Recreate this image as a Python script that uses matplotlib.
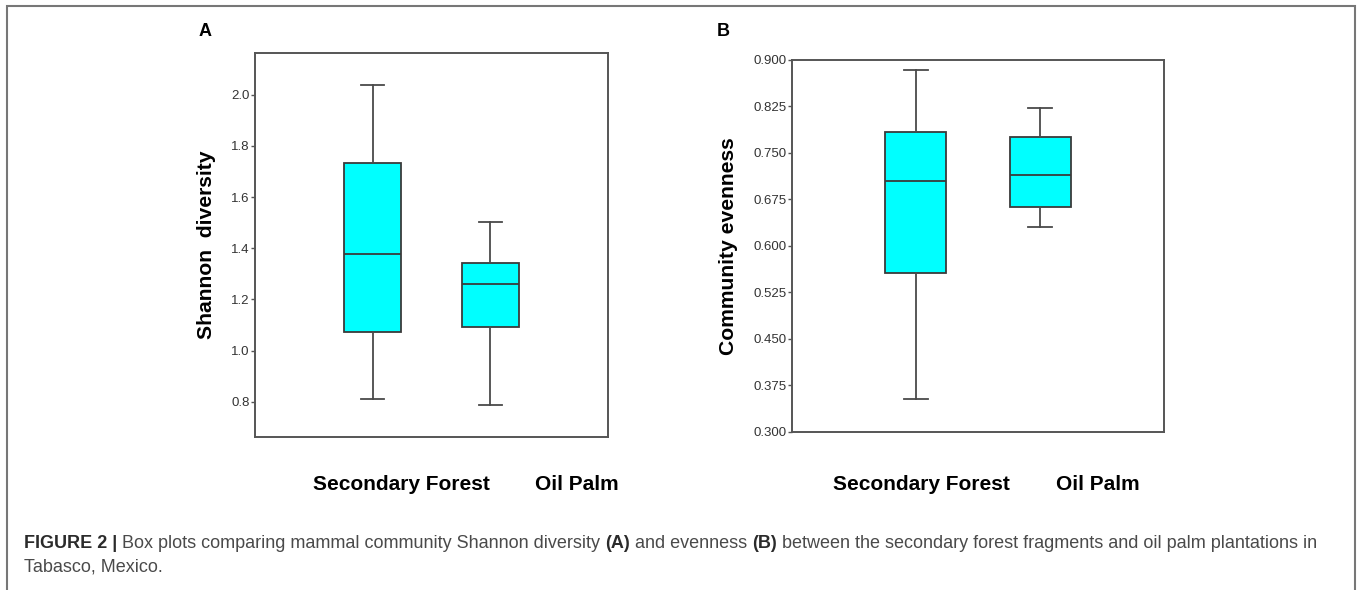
import matplotlib
matplotlib.use("Agg")
import matplotlib.pyplot as plt
from matplotlib.patches import Rectangle

# box statistics: whislo, q1, median, q3, whishi
groups = ["Secondary Forest", "Oil Palm"]
shannon_lo = [0.812, 0.787]
shannon_q1 = [1.073, 1.093]
shannon_med = [1.377, 1.262]
shannon_q3 = [1.732, 1.341]
shannon_hi = [2.039, 1.504]

even_lo = [0.352, 0.631]
even_q1 = [0.556, 0.663]
even_med = [0.705, 0.714]
even_q3 = [0.783, 0.776]
even_hi = [0.884, 0.822]

shannon_ticks = [0.8, 1.0, 1.2, 1.4, 1.6, 1.8, 2.0]
even_ticks = [0.300, 0.375, 0.450, 0.525, 0.600, 0.675, 0.750, 0.825, 0.900]

sans = ["Liberation Sans", "DejaVu Sans"]


def make_stats(lo, q1, med, q3, hi):
    st = []
    for i in range(len(lo)):
        st.append(dict(whislo=lo[i], q1=q1[i], med=med[i], q3=q3[i],
                       whishi=hi[i], fliers=[], label=groups[i]))
    return st


def draw_panel(ax, stats, ylim, ticks, fmt, ylabel, pad):
    ax.bxp(stats, positions=[1, 2], widths=0.49, capwidths=0.19,
           showfliers=False, patch_artist=True,
           boxprops=dict(facecolor="#00ffff", edgecolor="#3a3a3a", linewidth=1.3),
           medianprops=dict(color="#3a3a3a", linewidth=1.3),
           whiskerprops=dict(color="#4a4a4a", linewidth=1.3),
           capprops=dict(color="#4a4a4a", linewidth=1.3))
    ax.set_xlim(0, 3)
    ax.set_ylim(*ylim)
    ax.set_xticks([])
    ax.set_yticks(ticks)
    ax.set_yticklabels([fmt % t for t in ticks], family=sans,
                       fontsize=9.5, color="#333333")
    ax.tick_params(axis="y", direction="out", length=3, width=1,
                   color="#555555", pad=1)
    for s in ax.spines.values():
        s.set_color("#555555")
        s.set_linewidth(1.4)
    ax.set_ylabel(ylabel, family=sans, fontweight="bold", fontsize=15.2,
                  labelpad=pad)


W, H = 1357, 590
fig = plt.figure(figsize=(W / 100, H / 100), dpi=100)

axA = fig.add_axes([255 / W, 1 - 437 / H, 353 / W, 384 / H])
draw_panel(axA, make_stats(shannon_lo, shannon_q1, shannon_med, shannon_q3, shannon_hi),
           (0.662, 2.163), shannon_ticks, "%.1f", "Shannon  diversity", 11)

axB = fig.add_axes([791.7 / W, 1 - 431.7 / H, 372.6 / W, 371.7 / H])
draw_panel(axB, make_stats(even_lo, even_q1, even_med, even_q3, even_hi),
           (0.3, 0.9), even_ticks, "%.3f", "Community evenness", 11)

# panel letters
fig.text(205 / W, 1 - 32 / H, "A", family=sans, fontweight="bold", fontsize=13,
         ha="center", va="center")
fig.text(723 / W, 1 - 32 / H, "B", family=sans, fontweight="bold", fontsize=13,
         ha="center", va="center")

# group labels under each panel
for xc, name in zip([401, 577], groups):
    fig.text(xc / W, 1 - 484 / H, name, family=sans, fontweight="bold",
             fontsize=15, ha="center", va="center")
for xc, name in zip([921, 1098], groups):
    fig.text(xc / W, 1 - 484 / H, name, family=sans, fontweight="bold",
             fontsize=15, ha="center", va="center")

# outer frame
fig.add_artist(Rectangle((7 / W, -0.05), (1355 - 7) / W, 1.05 - 6 / H,
                         transform=fig.transFigure, fill=False,
                         edgecolor="#777777", linewidth=1.5, clip_on=False))

# caption
fig.canvas.draw()
r = fig.canvas.get_renderer()
y1 = 1 - 543.5 / H
parts = [("FIGURE 2 | ", "bold"),
         ("Box plots comparing mammal community Shannon diversity ", "normal"),
         ("(A)", "bold"), (" and evenness ", "normal"), ("(B)", "bold"),
         (" between the secondary forest fragments and oil palm plantations in", "normal")]
x = 24
for txt, wt in parts:
    t = fig.text(x / W, y1, txt, family=sans, fontweight=wt, fontsize=13.0,
                 color="#2b2b2b" if wt == "bold" else "#4a4a4a", va="center")
    x = t.get_window_extent(r).x1
fig.text(24 / W, 1 - 567.5 / H, "Tabasco, Mexico.", family=sans, fontsize=13.0,
         color="#4a4a4a", va="center")

fig.savefig("out.png", dpi=100)
